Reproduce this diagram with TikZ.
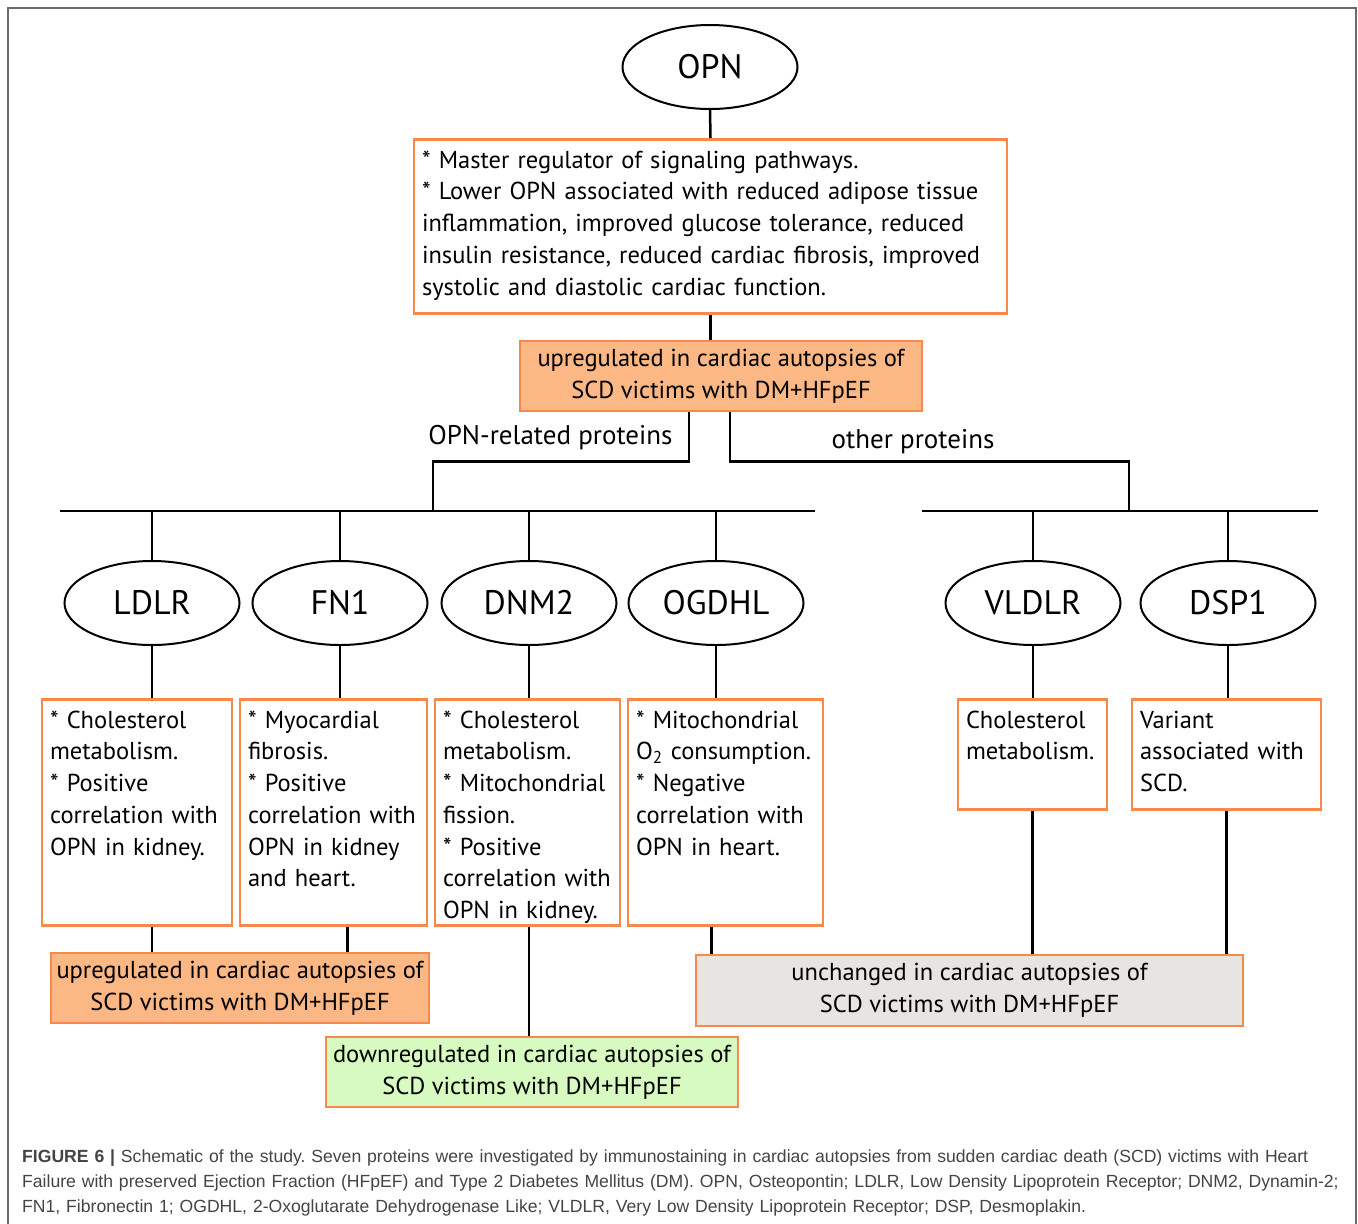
\documentclass[tikz,border=0pt]{standalone}
\usepackage{fontspec}
\setmainfont{PT Sans}
\newfontfamily\capfont{Liberation Sans}
\usetikzlibrary{shapes}
\definecolor{boxorange}{HTML}{F7894A}
\definecolor{upfill}{HTML}{FBB784}
\definecolor{downfill}{HTML}{D6FAC0}
\definecolor{samefill}{HTML}{E8E4E1}
\definecolor{capgray}{HTML}{444444}
\definecolor{framegray}{HTML}{6A6A6A}
\hyphenpenalty=10000
\frenchspacing

\begin{document}
\begin{tikzpicture}[x=1pt,y=-1pt]
        \tikzstyle{prot}=[ellipse,draw,line width=2pt,minimum width=175pt,minimum height=84pt,inner sep=0pt,font=\fontsize{34}{40}\selectfont]
        \tikzstyle{txtbox}=[rectangle,draw=boxorange,line width=2.5pt,anchor=north,align=left,inner xsep=8pt,inner ysep=8pt,text height=21pt,font=\fontsize{24.5}{31.7}\selectfont]
        \tikzstyle{resbox}=[rectangle,draw=boxorange,line width=2.5pt,align=center,minimum height=70pt,inner sep=0pt,font=\fontsize{24.5}{32}\selectfont]
        \tikzstyle{link}=[line width=2.5pt]
        \useasboundingbox (0,0) rectangle (1358,1224);
        \draw[framegray,line width=2pt] (8,1226) -- (8,8) -- (1356,8) -- (1356,1226);

        % top of the tree
        \node[prot] (opn) at (710,67) {OPN};
        \node[txtbox,text width=577pt,text depth=137pt] (info) at (710.5,138) {* Master regulator of signaling pathways.\\
        {}* Lower OPN associated with reduced adipose tissue\\
        inflammation, improved glucose tolerance, reduced\\
        insulin resistance, reduced cardiac fibrosis, improved\\
        systolic and diastolic cardiac function.};
        \node[resbox,fill=upfill,minimum width=402pt] (up1) at (721,376) {upregulated in cardiac autopsies of\\SCD victims with DM+HFpEF};
        \draw[link] (opn.south) -- (info.north);
        \draw[link] (info.south) -- (info.south |- up1.north);

        % the two branches
        \coordinate (lw) at (60,511);
        \coordinate (le) at (815,511);
        \coordinate (rw) at (922,511);
        \coordinate (re) at (1318,511);
        \coordinate (lj) at (433,511);
        \coordinate (rj) at (1129,511);
        \draw[link] (lw) -- (le);
        \draw[link] (rw) -- (re);
        \draw[link] ([xshift=-32pt]up1.south) -- ++(0,49) -| (lj);
        \draw[link] ([xshift=9pt]up1.south) -- ++(0,49) -| (rj);
        \node[font=\fontsize{27}{32}\selectfont,anchor=east] (oprel) at (676,438) {OPN-related proteins};
        \node[font=\fontsize{27}{32}\selectfont] (other) at (913,442) {other proteins};

        % proteins
        \node[prot] (ldlr) at (152,603) {LDLR};
        \node[prot] (fn1) at (340,603) {FN1};
        \node[prot] (dnm2) at (529,603) {DNM2};
        \node[prot] (ogdhl) at (716,603) {OGDHL};
        \node[prot] (vldlr) at (1033,603) {VLDLR};
        \node[prot] (dsp1) at (1228,603) {DSP1};
        \foreach \p in {ldlr,fn1,dnm2,ogdhl}
            \draw[link] (\p.north |- lw) -- (\p.north);
        \foreach \p in {vldlr,dsp1}
            \draw[link] (\p.north |- rw) -- (\p.north);

        % what is known
        \node[txtbox,text width=174pt,text depth=189pt] (ldlrbox) at (137,698) {* Cholesterol\\metabolism.\\{}* Positive\\correlation with\\OPN in kidney.};
        \node[txtbox,text width=171pt,text depth=189pt] (fn1box) at (333.5,698) {* Myocardial\\fibrosis.\\{}* Positive\\correlation with\\OPN in kidney\\and heart.};
        \node[txtbox,text width=169pt,text depth=189pt] (dnm2box) at (527.5,698) {* Cholesterol\\metabolism.\\{}* Mitochondrial\\fission.\\{}* Positive\\correlation with\\OPN in kidney.};
        \node[txtbox,text width=179pt,text depth=189pt] (ogdhlbox) at (725.5,698) {* Mitochondrial\\O\textsubscript{2} consumption.\\{}* Negative\\correlation with\\OPN in heart.};
        \node[txtbox,text width=133pt,text depth=73pt] (vldlrbox) at (1032.5,698) {Cholesterol\\metabolism.};
        \node[txtbox,text width=173pt,text depth=73pt] (dsp1box) at (1226.5,698) {Variant\\associated with\\SCD.};
        \foreach \p in {ldlr,fn1,dnm2,ogdhl,vldlr,dsp1}
            \draw[link] (\p.south) -- (\p.south |- \p box.north);

        % results
        \node[resbox,fill=upfill,minimum width=378pt] (up2) at (240,988) {upregulated in cardiac autopsies of\\SCD victims with DM+HFpEF};
        \node[resbox,fill=downfill,minimum width=412pt] (down) at (532,1072) {downregulated in cardiac autopsies of\\SCD victims with DM+HFpEF};
        \node[resbox,fill=samefill,minimum width=547pt,minimum height=71pt] (same) at (969.5,990.5) {unchanged in cardiac autopsies of\\SCD victims with DM+HFpEF};
        \draw[link] (ldlrbox.south -| ldlr) -- (up2.north -| ldlr);
        \draw[link] ([xshift=14pt]fn1box.south) -- ([xshift=14pt]fn1box.south |- up2.north);
        \draw[link] (dnm2box.south -| dnm2) -- (down.north -| dnm2);
        \draw[link] ([xshift=-14pt]ogdhlbox.south) -- ([xshift=-14pt]ogdhlbox.south |- same.north);
        \draw[link] (vldlrbox.south) -- (vldlrbox.south |- same.north);
        \draw[link] (dsp1box.south) -- (dsp1box.south |- same.north);

        % caption
        \node[anchor=base west,text width=1330pt,align=left,inner sep=0pt,text=capgray,font=\capfont\fontsize{17.6}{25}\selectfont] (cap) at (22,1162)
        {\textbf{FIGURE 6 |} Schematic of the study. Seven proteins were investigated by immunostaining in cardiac autopsies from sudden cardiac death (SCD) victims with Heart\\
        Failure with preserved Ejection Fraction (HFpEF) and Type 2 Diabetes Mellitus (DM). OPN, Osteopontin; LDLR, Low Density Lipoprotein Receptor; DNM2, Dynamin-2;\\
        FN1, Fibronectin 1; OGDHL, 2-Oxoglutarate Dehydrogenase Like; VLDLR, Very Low Density Lipoprotein Receptor; DSP, Desmoplakin.};
\end{tikzpicture}
\end{document}
